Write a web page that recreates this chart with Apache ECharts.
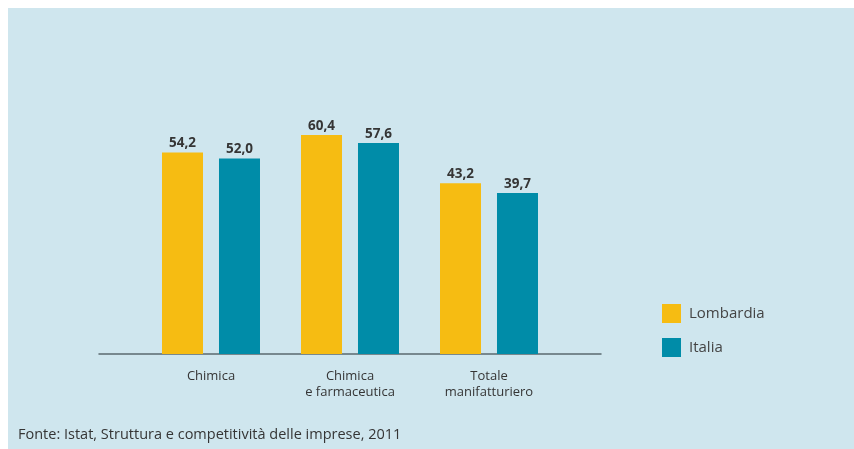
<!DOCTYPE html>
<html>
<head>
<meta charset="utf-8">
<script src="https://cdn.jsdelivr.net/npm/echarts@6/dist/echarts.min.js"></script>
<style>
  html, body { margin: 0; padding: 0; background: #ffffff; }
  #panel { position: absolute; left: 8px; top: 8px; width: 846px; height: 441px; background: #cfe6ee; }
  #chart { position: absolute; left: 0; top: 0; width: 854px; height: 449px; }
</style>
</head>
<body>
<div id="panel"></div>
<div id="chart"></div>
<script>
// Sector categories (two-line labels)
var categories = ['Chimica', 'Chimica\ne farmaceutica', 'Totale\nmanifatturiero'];
// Series values (%)
var lombardia = [54.2, 60.4, 43.2];
var italia = [52.0, 57.6, 39.7];
var seriesNames = ['Lombardia', 'Italia'];
var sourceNote = 'Fonte: Istat, Struttura e competitività delle imprese, 2011';

// Value axis range; the baseline sits below zero, so bars rise from the axis floor
var axisFloor = -17.8;
var axisCeil = 80;

var FONT = '"Open Sans", sans-serif';
var TEXT = '#353535';
var COLORS = ['#f6bc12', '#008ca8'];

function toPairs(values) {
  return values.map(function (v, i) { return [i, v]; });
}

function fmt(v) {
  return v.toFixed(1).replace('.', ',');
}

// Bars are drawn from the axis floor up to the value, using the chart's own scales
function makeRenderer(offsetFrac) {
  return function (params, api) {
    var ci = api.value(0);
    var v = api.value(1);
    var top = api.coord([ci, v]);
    var base = api.coord([ci, axisFloor]);
    var band = api.size([1, 0])[0];
    var w = band * 0.295;
    var cx = top[0] + offsetFrac * band;
    return {
      type: 'group',
      children: [
        {
          type: 'rect',
          shape: { x: cx - w / 2, y: top[1], width: w, height: base[1] - top[1] },
          style: { fill: api.visual('color') }
        },
        {
          type: 'text',
          x: cx,
          y: top[1] - 2,
          style: {
            text: fmt(v),
            fill: TEXT,
            font: 'bold 13.5px ' + FONT,
            align: 'center',
            verticalAlign: 'bottom'
          }
        }
      ]
    };
  };
}

var chart = echarts.init(document.getElementById('chart'), null, { renderer: 'canvas' });

chart.setOption({
  backgroundColor: 'transparent',
  animation: false,
  color: COLORS,
  textStyle: { fontFamily: FONT },
  title: {
    text: sourceNote,
    left: 13,
    top: 422,
    textStyle: { fontSize: 14.5, fontWeight: 'normal', color: TEXT, fontFamily: FONT }
  },
  legend: {
    orient: 'vertical',
    left: 657,
    top: 299,
    icon: 'rect',
    itemWidth: 19,
    itemHeight: 19,
    itemGap: 15,
    data: seriesNames,
    textStyle: { fontSize: 15, color: '#444444', fontFamily: FONT, padding: [0, 0, 0, 3] }
  },
  grid: [
    { left: 141.5, right: 295.5, top: 80.16, bottom: 95 },
    { left: 99, right: 253, top: 80.16, bottom: 95 }
  ],
  xAxis: [
    {
      type: 'category',
      gridIndex: 0,
      data: categories,
      axisLine: { show: false },
      axisTick: { show: false },
      axisLabel: {
        margin: 14,
        fontSize: 13,
        lineHeight: 16,
        color: TEXT,
        fontFamily: FONT
      }
    },
    {
      // baseline rule spanning the full plot width
      type: 'value',
      gridIndex: 1,
      min: 0,
      max: 1,
      position: 'bottom',
      axisLine: { show: true, onZero: false, lineStyle: { color: '#5b6a6f', width: 1.5 } },
      axisTick: { show: false },
      axisLabel: { show: false },
      splitLine: { show: false }
    }
  ],
  yAxis: [
    { type: 'value', gridIndex: 0, min: axisFloor, max: axisCeil, show: false, splitLine: { show: false } },
    { type: 'value', gridIndex: 1, min: 0, max: 1, show: false, splitLine: { show: false } }
  ],
  series: [
    {
      name: seriesNames[0],
      type: 'custom',
      xAxisIndex: 0,
      yAxisIndex: 0,
      itemStyle: { color: COLORS[0] },
      renderItem: makeRenderer(-0.205),
      data: toPairs(lombardia)
    },
    {
      name: seriesNames[1],
      type: 'custom',
      xAxisIndex: 0,
      yAxisIndex: 0,
      itemStyle: { color: COLORS[1] },
      renderItem: makeRenderer(0.205),
      data: toPairs(italia)
    }
  ]
});
</script>
</body>
</html>
